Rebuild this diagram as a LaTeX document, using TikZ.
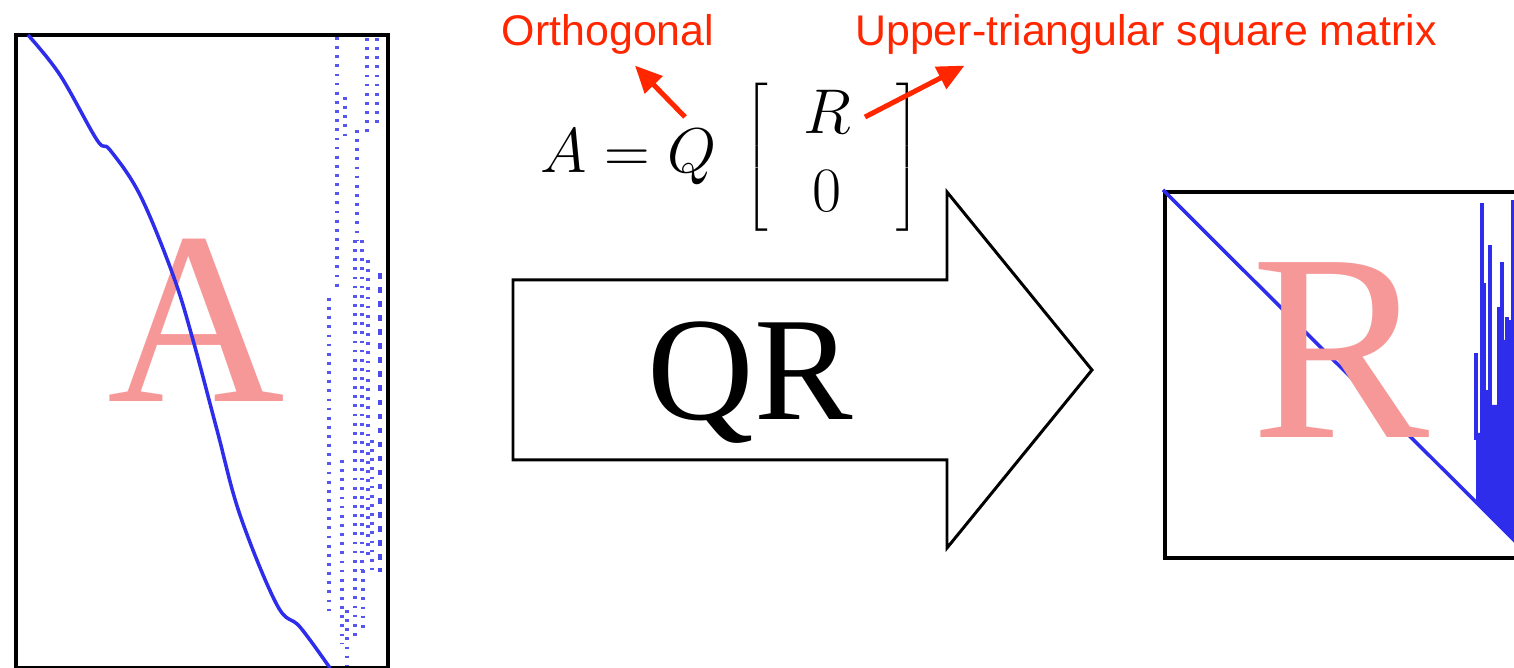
\RequirePackage{fix-cm}
\documentclass[tikz,border=0pt]{standalone}
\usepackage{fontspec}
\setsansfont{Liberation Sans}
\newfontfamily\timesfont{Liberation Serif}
\usetikzlibrary{arrows.meta}
\definecolor{lachs}{RGB}{247,152,152}
\definecolor{signalrot}{RGB}{255,38,0}
\definecolor{plotblau}{RGB}{45,45,235}
\begin{document}
\begin{tikzpicture}[
    rahmen/.style={draw, line width=1.1pt, anchor=north west, inner sep=0pt},
    gross/.style={text=lachs, font=\timesfont\fontsize{72}{72}\selectfont, inner sep=0pt, anchor=base},
    notiz/.style={text=signalrot, font=\sffamily\fontsize{12.2}{14}\selectfont, inner sep=0.1cm, anchor=base},
    pfeil/.style={-{Triangle[length=0.27cm, width=0.24cm]}, signalrot, line width=0.05cm},
    kurve/.style={plotblau, line width=1pt},
    punkte/.style={plotblau!80, line width=1pt, dash pattern=on 0.8pt off 1.8pt},
    striche/.style={plotblau!85, line width=1.3pt, dash pattern=on 1.6pt off 2.4pt}
  ]
  \useasboundingbox (0,0) rectangle (15.14,-6.68);
  \fill[white] (0,0) rectangle (15.14,-6.68);
  \clip (0,0) rectangle (15.14,-6.68);
  % Matrix A
  \node[rahmen, minimum width=3.72cm, minimum height=6.33cm] (boxa) at (0.14,-0.33) {};
  \node[gross, font=\timesfont\fontsize{70}{70}\selectfont] (buchstabea) at (1.96,-4.02) {A};
  \draw[kurve] plot[smooth, tension=0.6] coordinates {(0.28,-0.35) (0.60,-0.75) (0.97,-1.40) (1.10,-1.50) (1.40,-1.95) (1.73,-2.75) (1.93,-3.40) (2.17,-4.30) (2.40,-5.15) (2.77,-6.05) (3.00,-6.27) (3.30,-6.68)};
  \foreach \x/\a/\b in {3.37/0.37/2.90, 3.45/0.97/1.42, 3.57/1.30/2.40, 3.67/0.38/1.38, 3.77/0.38/1.28, 3.29/2.98/6.13, 3.62/2.40/5.70, 3.68/2.60/5.60, 3.42/4.60/6.43, 3.72/4.40/5.70, 3.63/5.70/6.33, 3.47/6.10/6.66, 3.55/2.40/6.40}
    \draw[punkte] (\x,-\a) -- (\x,-\b);
  \draw[striche] (3.80,-2.73) -- (3.80,-5.72);
  % Gleichung mit Erklaerungen
  \node[anchor=base west, inner sep=0pt, font=\fontsize{18}{22}\selectfont] (gleichung) at (5.40,-1.73) {$A = Q\;\left[\;\begin{array}{c} R\\ 0 \end{array}\;\,\right]$};
  \node[notiz] (orthogonal) at (6.08,-0.46) {Orthogonal};
  \node[notiz] (oberes) at (11.46,-0.46) {Upper-triangular square matrix};
  \coordinate (qspitze) at (6.85,-1.17);
  \coordinate (rspitze) at (8.65,-1.17);
  \draw[pfeil] (qspitze) -- ([xshift=0.27cm]orthogonal.south);
  \draw[pfeil] (rspitze) -- ([xshift=1.2cm]oberes.south west);
  % Blockpfeil
  \draw[line width=0.85pt, line join=miter] (5.13,-2.80) -- (9.47,-2.80) -- (9.47,-1.92) -- (10.92,-3.70) -- (9.47,-5.48) -- (9.47,-4.60) -- (5.13,-4.60) -- cycle;
  \node[font=\timesfont\fontsize{42}{42}\selectfont, anchor=base, inner sep=0pt] (qr) at (7.50,-4.20) {QR};
  % Matrix R
  \node[rahmen, minimum width=3.67cm, minimum height=3.66cm] (boxr) at (11.63,-1.90) {};
  \draw[kurve] (boxr.north west) -- (boxr.south east);
  \fill[plotblau] (14.76,-5.02) -- (14.76,-4.33) -- (14.90,-4.33) -- (14.90,-4.05) -- (15.00,-4.05) -- (15.00,-3.40) -- (15.30,-3.40) -- (15.30,-5.56) -- cycle;
  \foreach \x/\y in {14.76/3.53, 14.82/2.03, 14.84/2.83, 14.88/3.90, 14.90/2.45, 14.95/4.57, 14.99/3.07, 15.02/2.62, 15.07/3.17, 15.10/3.20, 15.13/2.00}
    \draw[plotblau, line width=1.2pt] (\x,-\y) -- (\x,-4.4);
  \node[gross, font=\timesfont\fontsize{76}{76}\selectfont] (buchstaber) at (13.41,-4.38) {R};
\end{tikzpicture}
\end{document}
